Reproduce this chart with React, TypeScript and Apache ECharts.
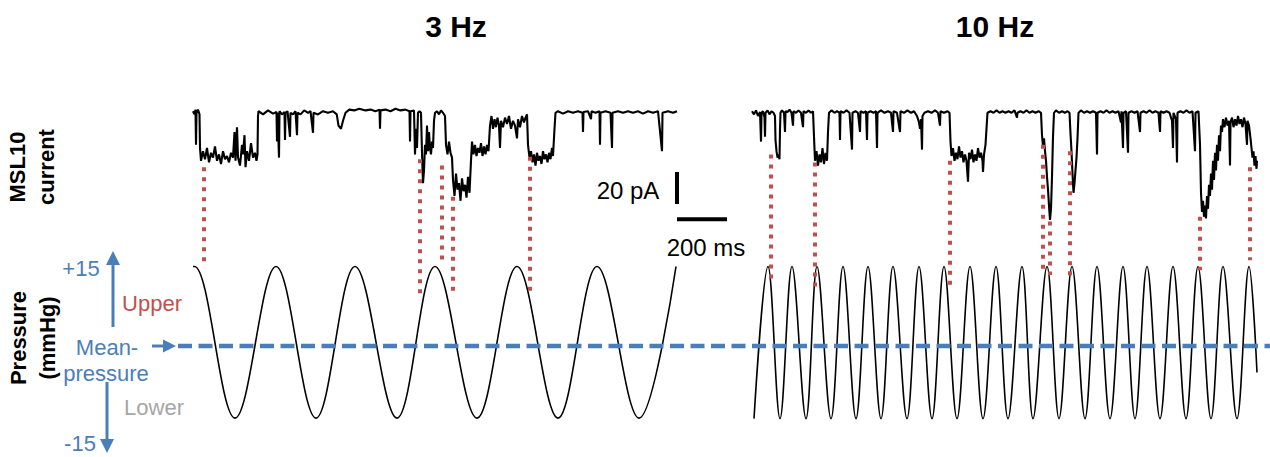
import React, { useEffect, useRef } from "react";
import * as echarts from "echarts";

// ---------- data ----------
const PANEL_TITLES = ["3 Hz", "10 Hz"];
const Y_LABELS = ["MSL10\ncurrent", "Pressure\n(mmHg)"];
const PRESSURE_TICK_LABELS = ["+15", "-15"];
const ZONE_LABELS = ["Upper", "Mean-\npressure", "Lower"];
const SCALE_BAR_PA = 20;
const SCALE_BAR_MS = 200;
const MEAN_PRESSURE = 0;

// MSL10 current, 3 Hz: [time ms, current pA]
const CURRENT_3HZ: [number, number][] = [
  [0,1],[6,-1],[10,2],[12,-20],[14,0],[20,2],[26,-1],
  [28,-22],[32,-30],[40,-24],[48,-29],[56,-22],[64,-31],[72,-25],[80,-28],[88,-21],[96,-30],[104,-26],[112,-32],[120,-24],[128,-29],[136,-27],[144,-31],[152,-25],[160,-28],[166,-12],[170,-30],[176,-9],[180,-28],[188,-33],[196,-20],[200,-26],[206,-14],[210,-34],[216,-24],[224,-30],[232,-19],[240,-28],[248,-25],[254,-30],[258,-26],[260,-2],
  [262,1],[280,-1],[300,1.5],[320,-0.5],[334,0.5],[336,-18],[338,0],[344,-28],[346,1],[356,-1],[366,0.5],[368,-17],[370,0],[378,1],[388,-15],[390,0],[400,-1],[410,1],[416,-14],[418,0],[430,-1],[445,1.5],[460,0],[470,1],[480,-12.5],[482,0],[500,-1],[520,1],[540,0],[560,1],[575,-1],[582,-8],[592,-10],[600,-5],[610,0],[625,2],[645,1.5],[665,2.5],[690,1.5],[710,2],[730,1],[746,2],[748,-10],[750,1.5],[770,2],[790,1],[810,2.5],[830,1.5],[850,2],[866,1],[868,-18],[870,1],[884,1.5],[888,-26],[892,-10],[896,-22],[900,0],[906,1],
  [912,0],[916,-25],[920,-44],[924,-36],[928,-20],[932,-26],[936,-8],[940,-24],[944,-12],[948,-22],[952,-26],[956,-18],[960,-22],[964,-5],[968,0],
  [976,1],[984,-1],[992,1.5],[1000,0],[1008,-2],
  [1012,-20],[1018,-26],[1024,-18],[1030,-25],[1036,-28],
  [1040,-42],[1046,-52],[1052,-38],[1058,-48],[1064,-44],[1070,-55],[1076,-41],[1082,-49],[1088,-45],[1094,-53],[1100,-40],[1106,-50],
  [1112,-30],[1116,-18],[1122,-26],[1128,-20],[1134,-27],[1140,-22],[1146,-25],[1152,-19],[1158,-27],[1164,-21],[1170,-26],[1176,-20],[1182,-24],
  [1188,-8],[1194,-2],[1200,-10],[1206,-4],[1212,-9],[1218,-3],[1224,-8],[1228,-22],[1232,-5],[1240,-9],[1248,-3],[1256,-7],[1264,-2],[1272,-10],[1280,-5],[1288,-8],[1296,-16],[1300,-4],[1308,-9],[1316,-2],[1324,-6],[1330,-3],[1336,-1],
  [1340,-20],[1346,-28],[1352,-24],[1358,-31],[1364,-26],[1370,-33],[1376,-25],[1382,-30],[1388,-27],[1394,-32],[1400,-24],[1406,-29],[1412,-26],[1418,-31],[1424,-25],[1430,-29],[1436,-22],[1440,-27],[1446,-10],[1450,0],
  [1460,1],[1480,-0.5],[1500,1],[1520,0],[1540,1],[1558,0],[1560,-12],[1562,0.5],[1580,1],[1592,-4],[1594,1],[1610,0],[1626,1],[1628,-20],[1630,0],[1650,1],[1670,0],[1676,-22],[1678,0],[1700,1],[1720,0],[1740,1],[1760,0],[1780,1],[1800,-0.5],[1820,1],[1840,0],[1860,1],[1876,-24],[1878,0],[1900,1],[1920,0],[1936,1],
];

// MSL10 current, 10 Hz: [time ms, current pA]
const CURRENT_10HZ: [number, number][] = [
  [0,1],[8,-1],[16,1.5],[24,-2],[32,0.5],[36,-18],[38,0],[44,1],[50,-3],[52,-15],[54,0],[62,1.5],[70,-1],[78,1],[86,0],[92,-2],
  [94,-17],[98,-24],[102,-28],[106,-26],[110,-29],[112,-10],[114,0],
  [120,1.5],[128,0],[132,-12],[134,1],[142,0.5],[150,2],[158,0],[164,-8],[166,1],[176,0],[186,1.5],[196,0],[204,-9],[206,1],[216,0],[226,1.5],[236,0],[244,1],
  [248,-15],[252,-30],[258,-24],[264,-33],[270,-26],[276,-31],[282,-22],[288,-32],[294,-25],[300,-30],[304,-12],
  [308,0],[318,1.5],[330,0],[340,1],[350,0],[352,-17],[354,1],[366,0],[378,1.5],[390,0],[400,-23],[402,0],[414,1],[424,0],[432,-12],[434,1],[446,0],[456,1],[460,-17],[462,0],[474,1],[486,0],[496,1],[500,-22],[502,0],[516,1.5],[530,0],[544,1],[556,0],[564,-12],[566,1],[580,0],[592,-12],[594,1],[608,0],[622,1.5],[636,0],[648,1],[660,-2],[668,-6],[672,-10],[676,-4],[680,-23],[682,-2],[690,0],[704,1],[718,0],[732,1.5],[744,0],[752,-8],[754,1],[768,0],[782,1],[790,0],
  [794,-18],[798,-27],[804,-22],[810,-30],[816,-25],[822,-29],[828,-21],[834,-28],[840,-24],[846,-31],[852,-26],[858,-30],[864,-43],[868,-25],[874,-29],[880,-23],[886,-31],[892,-26],[898,-30],[904,-22],[910,-28],[916,-25],[922,-30],[924,-37],[928,-26],[934,-20],[938,-10],
  [942,0],[954,1],[966,0],[978,1.5],[990,0],[1002,1],[1014,0],[1026,1],[1038,0],[1050,1.5],[1060,-3],[1062,0],[1074,1],[1086,0],[1098,1.5],[1110,0],[1122,1],[1134,0],[1146,1],[1156,0],
  [1160,-14],[1164,-21],[1168,-16],[1172,-24],[1176,-30],[1180,-40],[1184,-48],[1188,-58],[1192,-67],[1196,-60],[1200,-40],[1204,-15],
  [1208,0],[1216,1.5],[1228,0],[1240,1],[1252,0],[1262,1],[1270,0],
  [1274,-13],[1278,-24],[1282,-38],[1286,-50],[1290,-44],[1294,-36],[1298,-28],[1302,-16],[1306,0],
  [1316,1.5],[1328,0],[1340,1],[1352,0],[1364,1],[1376,0],[1380,-26],[1382,0],[1394,1],[1406,0],[1418,1.5],[1430,0],[1442,1],[1454,0],[1466,1],[1476,-6],[1478,1],[1484,-22],[1486,0],[1496,1],[1504,-25],[1506,0],[1518,1],[1530,0],[1542,1],[1552,-12],[1554,0],[1566,1],[1578,0],[1590,1.5],[1602,0],[1614,1],[1626,0],[1632,-12],[1634,1],[1646,0],[1658,1],[1670,0],[1680,-5],[1684,-22],[1686,0],[1696,-4],[1700,-31],[1702,0],[1714,1],[1726,0],[1738,1.5],[1750,0],[1762,1],[1772,-24],[1774,0],[1786,1],
  [1792,-20],[1796,-50],[1800,-62],[1804,-55],[1808,-65],[1812,-58],[1816,-66],[1820,-52],[1824,-60],
  [1828,-45],[1832,-52],[1836,-38],[1840,-48],[1844,-30],[1848,-42],[1852,-25],[1856,-36],[1860,-20],[1864,-30],[1868,-14],[1872,-24],[1876,-8],[1880,-12],
  [1884,-4],[1890,-9],[1896,-3],[1902,-8],[1908,-5],[1912,-33],[1914,-6],[1920,-3],[1926,-9],[1932,-4],[1938,-8],[1944,-2],[1950,-7],[1956,-4],[1962,-9],[1968,-3],[1974,-7],[1980,-20],[1982,-5],[1988,-8],
  [1994,-16],[1998,-22],[2002,-28],[2006,-24],[2010,-33],[2014,-27],[2018,-35],[2020,-30],
];

// Pressure, 3 Hz: peaks and troughs [time ms, mmHg]
const PRESSURE_3HZ: [number, number][] = [
  [0,15],[6,15],[168,-13.6],[332,15],[492,-13.6],[648,15],[816,-13.6],[968,15],[1136,-13.6],[1296,15],[1460,-13.6],[1616,15],[1784,-13.6],[1932,15],
];

// Pressure, 10 Hz: peaks and troughs (last point = end of trace)
const PRESSURE_10HZ: [number, number][] = [
  [8,-13.7],[64,15],[112,-13.7],[160,15],[216,-13.7],[260,15],[316,-13.7],[364,15],[416,-13.7],[464,15],[516,-13.7],[564,15],[620,-13.7],[668,15],[720,-13.7],[768,15],[820,-13.7],[872,15],[924,-13.7],[976,15],[1024,-13.7],[1080,15],[1124,-13.7],[1180,15],[1228,-13.7],[1280,15],[1332,-13.7],[1380,15],[1432,-13.7],[1484,15],[1532,-13.7],[1580,15],[1632,-13.7],[1684,15],[1736,-13.7],[1784,15],[1836,-13.7],[1884,15],[1940,-13.7],[1988,15],[2020,-5],
];

// Red dotted markers: [time ms, current pA (top end), pressure mmHg (bottom end)]
const MARKERS_3HZ: [number, number, number][] = [
  [44,-34,15.7],[908,-29,9.4],[996,-33,15.8],[1040,-52.5,10],[1348,-27.5,10.2],
];
const MARKERS_10HZ: [number, number, number][] = [
  [76,-26,12.3],[252,-31,11.1],[792,-30,11.3],[1164,-20,14.2],[1192,-68,13.4],[1272,-24,13],[1792,-65,14.3],[1992,-34,16.2],
];

// Scale bars in the 3 Hz current panel's units: [t1, pA1, t2, pA2]
const SCALE_BARS: [number, number, number, number][] = [
  [1936, -37, 1936, -37 - SCALE_BAR_PA],
  [1936, -66.5, 1936 + SCALE_BAR_MS, -66.5],
];

// ---------- layout ----------
const FONT = "'Liberation Sans', Arial, Helvetica, sans-serif";
const BLUE = "#4a7ebb";
const RED = "#c0504d";
const GREY = "#a6a6a6";
const CUR_RANGE = [-72, 8];
const P_RANGE = [-20, 20];

export default function App() {
  const ref = useRef<HTMLDivElement>(null);

  useEffect(() => {
    document.body.style.margin = "0";
    if (!ref.current) return;
    const chart = echarts.init(ref.current, null, { renderer: "svg" });

    const grids = [
      { left: 193, top: 100, width: 485, height: 128 },
      { left: 752, top: 100, width: 506, height: 128 },
      { left: 193, top: 240, width: 485, height: 212 },
      { left: 752, top: 240, width: 506, height: 212 },
      { left: 178, top: 240, width: 1092, height: 212 },
    ];
    const xMax = [1940, 2024, 1940, 2024, 1];
    const xAxis = grids.map((_, i) => ({
      type: "value", gridIndex: i, min: 0, max: xMax[i], show: false,
    }));
    const yAxis = grids.map((_, i) => ({
      type: "value", gridIndex: i,
      min: i < 2 ? CUR_RANGE[0] : P_RANGE[0],
      max: i < 2 ? CUR_RANGE[1] : P_RANGE[1],
      show: false,
    }));

    const traceSeries = (data: [number, number][], idx: number, width: number) => ({
      type: "line", xAxisIndex: idx, yAxisIndex: idx, data,
      showSymbol: false, symbol: "none", silent: true,
      lineStyle: { color: "#000", width }, z: 3,
    });

    const markerSeries = (data: [number, number, number][], pIdx: number, cIdx: number) => ({
      type: "custom", xAxisIndex: pIdx, yAxisIndex: pIdx, clip: false, z: 6, silent: true,
      data,
      renderItem: (_p: any, api: any) => {
        const t = api.value(0);
        const pa = api.value(1);
        const pr = api.value(2);
        const bottom = api.coord([t, pr]);
        let top: number[] | null = null;
        try {
          top = chart.convertToPixel({ xAxisIndex: cIdx, yAxisIndex: cIdx } as any, [t, pa]) as any;
        } catch (e) {
          top = null;
        }
        if (!top || isNaN(top[1])) {
          const g = grids[cIdx];
          top = [bottom[0], g.top + ((CUR_RANGE[1] - pa) / (CUR_RANGE[1] - CUR_RANGE[0])) * g.height];
        }
        return {
          type: "line",
          shape: { x1: bottom[0], y1: top[1], x2: bottom[0], y2: bottom[1] },
          style: { stroke: RED, lineWidth: 4, lineDash: [4, 6], fill: null },
        };
      },
    });

    const scaleBarSeries = {
      type: "custom", xAxisIndex: 0, yAxisIndex: 0, clip: false, z: 6, silent: true,
      data: SCALE_BARS,
      renderItem: (_p: any, api: any) => {
        const a = api.coord([api.value(0), api.value(1)]);
        const b = api.coord([api.value(2), api.value(3)]);
        return {
          type: "line",
          shape: { x1: a[0], y1: a[1], x2: b[0], y2: b[1] },
          style: { stroke: "#000", lineWidth: 4, lineCap: "butt", fill: null },
        };
      },
    };

    const textEl = (text: string, x: number, y: number, size: number, color: string, bold = false, rotation = 0, lineHeight?: number) => ({
      type: "text", x, y, rotation, silent: true,
      style: {
        text, fill: color, fontSize: size, fontFamily: FONT, fontWeight: bold ? "bold" : "normal",
        textAlign: "center", textVerticalAlign: "middle", align: "center", verticalAlign: "middle",
        lineHeight: lineHeight ?? Math.round(size * 1.2),
      },
    });
    const lineEl = (x1: number, y1: number, x2: number, y2: number, color: string, w: number) => ({
      type: "line", silent: true, shape: { x1, y1, x2, y2 }, style: { stroke: color, lineWidth: w },
    });
    const triEl = (pts: number[][], color: string) => ({
      type: "polygon", silent: true, shape: { points: pts }, style: { fill: color },
    });

    const zoneParts = ZONE_LABELS[1].split("\n");

    chart.setOption({
      animation: false,
      grid: grids.map((g) => ({ ...g, containLabel: false })),
      xAxis, yAxis,
      series: [
        traceSeries(CURRENT_3HZ, 0, 2.1),
        traceSeries(CURRENT_10HZ, 1, 2.1),
        { ...traceSeries(PRESSURE_3HZ, 2, 1.6), smooth: 0.3642 },
        { ...traceSeries(PRESSURE_10HZ, 3, 1.6), smooth: 0.3642 },
        {
          type: "line", xAxisIndex: 4, yAxisIndex: 4, silent: true, showSymbol: false, symbol: "none", z: 5,
          data: [[0, MEAN_PRESSURE], [1, MEAN_PRESSURE]],
          lineStyle: { color: BLUE, width: 4.5, type: [14, 6.5] },
        },
        markerSeries(MARKERS_3HZ, 2, 0),
        markerSeries(MARKERS_10HZ, 3, 1),
        scaleBarSeries,
      ],
      graphic: {
        elements: [
          textEl(PANEL_TITLES[0], 456, 26, 30, "#000", true),
          textEl(PANEL_TITLES[1], 995, 26, 30, "#000", true),
          textEl(Y_LABELS[0], 32, 167, 22, "#000", true, Math.PI / 2, 29),
          textEl(Y_LABELS[1], 33, 338, 22, "#000", true, Math.PI / 2, 29),
          textEl(PRESSURE_TICK_LABELS[0], 81, 268, 22, BLUE),
          textEl(PRESSURE_TICK_LABELS[1], 80, 443, 22, BLUE),
          textEl(ZONE_LABELS[0], 152, 303, 22, RED),
          textEl(zoneParts[0], 107, 347, 22, BLUE),
          textEl(zoneParts[1], 106, 373, 22, BLUE),
          textEl(ZONE_LABELS[2], 154, 407, 22, GREY),
          lineEl(113, 327, 113, 262, BLUE, 3),
          triEl([[106, 265], [120, 265], [113, 251]], BLUE),
          lineEl(107, 382, 107, 440, BLUE, 3),
          triEl([[100, 439], [114, 439], [107, 453]], BLUE),
          lineEl(152, 346, 165, 346, BLUE, 3),
          triEl([[163, 339.5], [163, 352.5], [176, 346]], BLUE),
          textEl(`${SCALE_BAR_PA} pA`, 628, 190, 24, "#000"),
          textEl(`${SCALE_BAR_MS} ms`, 706, 247, 24, "#000"),
        ],
      },
    });

    return () => chart.dispose();
  }, []);

  return <div ref={ref} style={{ width: 1270, height: 457 }} />;
}
